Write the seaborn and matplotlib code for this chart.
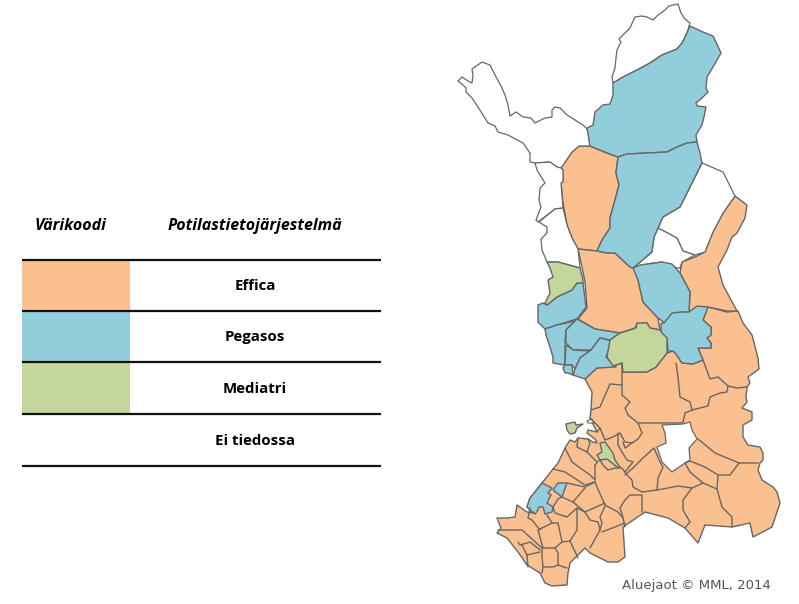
import matplotlib
matplotlib.use("Agg")
import matplotlib.pyplot as plt
import seaborn as sns

# legend table
LEGEND_LABELS = ["Effica", "Pegasos", "Mediatri", "Ei tiedossa"]
LEGEND_ROWS = [260, 311, 362, 414, 466]
HEADERS = ["Värikoodi", "Potilastietojärjestelmä"]
CREDIT = "Aluejaot © MML, 2014"

# region outlines in pixels
NORTH_TIP = [(613,83),(612,77),(615,68),(616,58),(617,50),(621,42),(619,39),(625,33),(630,28),(635,17),(642,16),(647,17),(653,20),(658,15),(665,10),(669,6),(678,4),(681,13),(685,19),(690,23),(687,33),(682,43),(677,49),(662,55),(650,63),(637,70),(623,77)]
WEST_ARM = [(588,130),(583,125),(575,120),(567,115),(560,108),(555,107),(552,110),(552,117),(545,118),(535,123),(531,118),(523,117),(516,112),(510,116),(508,105),(505,95),(502,88),(495,75),(490,65),(482,62),(472,69),(473,75),(472,83),(468,81),(462,77),(458,81),(463,85),(466,88),(466,92),(472,98),(478,107),(483,115),(488,123),(495,126),(498,132),(508,135),(523,143),(530,153),(530,162),(535,163),(550,162),(557,167),(561,168),(572,152),(579,146),(590,146)]
WEST_COAST_1 = [(535,163),(550,162),(557,167),(561,168),(563,170),(563,182),(561,183),(563,208),(555,209),(538,222),(536,220),(541,207),(539,200),(540,188),(545,183),(537,170)]
WEST_COAST_2 = [(563,208),(567,225),(572,238),(578,249),(580,268),(558,262),(547,262),(542,250),(541,239),(547,233),(547,227),(539,222),(555,209)]
EAST_WHITE_1 = [(702,163),(723,172),(735,196),(723,213),(713,232),(705,252),(695,255),(683,251),(677,238),(658,228),(663,217),(680,207),(687,193),(695,177)]
EAST_WHITE_2 = [(658,228),(677,238),(683,251),(695,255),(682,262),(680,268),(677,268),(662,262),(647,264),(633,268),(652,252),(654,237)]
LAKE_HOLE = [(662,425),(665,433),(666,443),(657,447),(662,462),(672,472),(685,463),(690,460),(689,448),(697,439),(692,430),(690,422),(683,424)]
ISLAND = [(587,421),(592,419),(594,423),(588,423)]

BLUE_NORTH = [(690,26),(703,32),(713,36),(716,42),(721,53),(713,67),(707,77),(706,88),(708,92),(702,98),(696,103),(697,106),(706,107),(704,117),(702,125),(696,135),(697,142),(687,143),(677,147),(667,152),(647,153),(627,154),(618,157),(607,153),(590,146),(587,128),(593,125),(595,112),(603,105),(610,104),(613,95),(613,83),(623,77),(637,70),(650,63),(662,55),(677,49),(682,43),(687,33)]
BLUE_CENTRAL = [(618,157),(627,154),(647,153),(667,152),(677,147),(687,143),(697,142),(700,153),(702,163),(695,177),(687,193),(680,207),(663,217),(658,228),(654,237),(652,252),(633,268),(630,267),(615,253),(607,253),(597,251),(602,240),(610,228),(610,218),(615,200),(619,185),(616,173)]
BLUE_OULU = [(633,268),(640,265),(662,262),(672,264),(680,273),(690,292),(689,312),(673,313),(665,323),(658,318),(643,302),(638,280)]
BLUE_WEST_1 = [(583,283),(586,307),(577,319),(557,325),(545,329),(538,322),(538,305),(543,303),(547,305),(557,297),(572,290),(577,283)]
BLUE_WEST_2 = [(545,329),(557,325),(575,321),(566,330),(565,342),(565,363),(564,365),(553,363),(553,357),(550,347),(546,335)]
BLUE_WEST_3 = [(577,319),(595,329),(620,333),(610,340),(600,338),(591,350),(573,350),(566,343),(566,330),(575,321)]
BLUE_WEST_4 = [(566,345),(573,350),(590,351),(580,358),(575,369),(572,365),(565,365)]
BLUE_COAST = [(565,365),(572,365),(573,375),(568,373),(565,373),(563,368)]
BLUE_WEST_5 = [(600,338),(612,341),(606,357),(616,367),(597,368),(585,379),(573,375),(575,369),(580,358),(591,350)]
BLUE_KAINUU = [(661,323),(664,323),(672,313),(682,312),(689,312),(697,306),(708,307),(703,320),(711,327),(711,335),(707,338),(711,343),(711,348),(698,348),(703,360),(693,364),(682,363),(676,354),(673,351),(668,351),(667,338),(660,335),(661,330)]
BLUE_SW_BIG = [(542,483),(552,488),(548,493),(551,495),(547,503),(553,507),(552,512),(545,514),(543,507),(539,507),(538,510),(535,514),(527,507),(530,498),(535,492)]
BLUE_SW_SMALL = [(558,483),(567,483),(562,497),(553,490),(555,487)]

GREEN_TOP = [(547,262),(558,262),(580,268),(583,280),(583,283),(577,283),(572,290),(557,297),(547,305),(545,303),(550,293),(548,280),(553,277),(550,268)]
GREEN_CENTRAL = [(610,340),(620,333),(630,330),(636,328),(637,323),(647,323),(650,328),(660,330),(662,333),(667,338),(667,353),(656,367),(647,372),(623,372),(622,363),(613,366),(607,357)]
GREEN_ISLAND = [(566,424),(570,423),(575,422),(576,425),(583,424),(577,428),(575,433),(570,434),(567,430)]
GREEN_LAKE = [(605,442),(613,453),(615,460),(620,467),(617,467),(612,463),(607,459),(600,460),(597,455),(602,452),(600,443)]

ORANGE_LAPLAND = [(590,146),(579,146),(572,152),(561,168),(563,170),(563,182),(561,183),(563,203),(567,225),(572,238),(578,249),(597,251),(602,240),(610,228),(610,218),(615,200),(619,185),(616,173),(618,157),(607,153)]
ORANGE_EAST = [(735,196),(747,205),(745,218),(737,233),(732,237),(727,250),(718,267),(723,285),(737,311),(727,311),(708,307),(689,312),(690,292),(680,273),(682,262),(695,257),(705,252),(713,232),(723,213)]
ORANGE_OULU = [(578,249),(597,251),(607,253),(615,253),(630,267),(635,269),(638,280),(643,302),(658,318),(660,330),(650,328),(647,323),(637,324),(635,328),(620,333),(595,329),(578,319),(587,308),(585,282),(582,267)]
ORANGE_SOUTH = [(585,379),(597,368),(613,366),(622,363),(623,372),(647,372),(656,367),(667,353),(673,351),(676,354),(682,363),(693,364),(703,360),(698,348),(711,348),(711,343),(707,338),(711,335),(711,327),(703,320),(708,307),(727,312),(738,311),(743,323),(752,335),(758,358),(759,369),(748,377),(750,383),(747,387),(746,397),(747,402),(742,408),(747,410),(752,412),(752,420),(743,425),(743,437),(748,445),(760,447),(763,453),(763,460),(760,463),(758,470),(762,480),(773,487),(777,492),(780,503),(772,527),(753,537),(750,523),(732,527),(705,525),(698,543),(685,528),(668,518),(645,512),(623,527),(625,557),(618,562),(608,562),(590,553),(585,548),(570,563),(568,573),(567,585),(552,586),(545,583),(540,573),(527,565),(518,552),(507,538),(497,533),(501,528),(497,518),(507,518),(515,517),(517,505),(527,512),(533,513),(527,507),(530,498),(535,492),(542,483),(553,469),(558,463),(565,448),(570,440),(575,442),(578,438),(588,439),(593,442),(597,443),(595,439),(587,433),(588,430),(597,432),(590,418),(591,410),(592,392)]

# borders between the Effica municipalities
BORDERS = [
    [(703,360),(710,379),(718,377),(728,386),(737,388),(747,387)],
    [(728,386),(727,392),(720,393),(710,397),(708,406),(692,410),(690,402),(680,397),(678,377),(676,363)],
    [(692,410),(685,413),(683,423),(663,423),(638,423),(628,415),(625,408),(630,402),(622,395),(622,363)],
    [(622,385),(610,384),(600,407),(591,410)],
    [(638,423),(642,433),(638,439),(632,443),(625,442),(620,433),(613,437),(605,440),(600,428),(590,418)],
    [(578,438),(577,447),(587,452),(590,443),(588,439)],
    [(565,448),(572,462),(590,475),(595,480),(595,465),(597,463)],
    [(587,452),(597,462),(600,460),(603,465),(608,470),(615,468),(622,468),(627,475),(632,480),(633,487),(642,492)],
    [(553,469),(565,472),(585,485),(595,482)],
    [(595,482),(597,487),(605,505),(618,512),(623,518),(625,527)],
    [(605,506),(600,517),(602,523),(600,530),(590,548)],
    [(625,523),(602,532)],
    [(623,517),(620,508),(625,500),(630,495),(642,495),(642,512)],
    [(625,475),(633,468),(643,458),(654,448),(660,462),(663,467),(658,478),(657,490)],
    [(642,492),(657,490),(668,488),(678,486),(692,488),(683,500),(683,510),(690,522),(685,528)],
    [(692,488),(703,483),(717,489),(722,507),(732,517),(732,527)],
    [(703,483),(690,472),(685,463),(690,461),(705,467),(718,475),(730,475),(739,463)],
    [(718,475),(717,489)],
    [(698,439),(715,453),(739,463),(758,463)],
    [(623,442),(625,448),(632,443)],
    [(618,433),(618,445),(622,452),(627,460),(633,462),(625,472)],
    [(567,483),(585,487),(595,482)],
    [(562,497),(573,502),(585,512),(590,520),(598,522),(600,530)],
    [(553,507),(558,499),(562,497)],
    [(573,502),(585,488)],
    [(585,512),(605,503)],
    [(553,507),(555,513),(567,517),(577,508),(585,512)],
    [(547,515),(552,523),(558,523),(562,542),(570,541),(577,530),(577,508)],
    [(570,541),(578,558)],
    [(555,548),(558,553),(558,565),(567,568)],
    [(542,528),(538,530),(543,548),(555,548),(562,542)],
    [(542,528),(552,523)],
    [(530,508),(528,518),(532,520),(540,530)],
    [(498,530),(522,530),(542,548),(542,557),(543,567),(553,567),(558,565)],
    [(518,542),(520,545),(530,542),(540,550)],
    [(527,555),(540,552)],
    [(522,545),(527,555),(528,567)],
    [(543,567),(542,573)],
    [(597,432),(600,428)],
]

EDGE = "#666666"
palette = sns.color_palette(["#FAC090", "#92CDDC", "#C3D69B"])
ORANGE, BLUE, GREEN = palette

WHITE_REGIONS = [NORTH_TIP, WEST_ARM, WEST_COAST_1, WEST_COAST_2, EAST_WHITE_1, EAST_WHITE_2]
BLUE_REGIONS = [BLUE_NORTH, BLUE_CENTRAL, BLUE_OULU, BLUE_WEST_1, BLUE_WEST_2, BLUE_WEST_3, BLUE_WEST_4, BLUE_COAST, BLUE_WEST_5, BLUE_KAINUU, BLUE_SW_BIG, BLUE_SW_SMALL]
GREEN_REGIONS = [GREEN_TOP, GREEN_CENTRAL, GREEN_ISLAND, GREEN_LAKE]
ORANGE_REGIONS = [ORANGE_LAPLAND, ORANGE_EAST, ORANGE_OULU]


def draw_region(ax, outline, color, lw=1.0):
    xs, ys = zip(*outline)
    ax.fill(xs, ys, facecolor=color, edgecolor=EDGE, linewidth=lw, joinstyle="round")


def main():
    sns.set_theme(style="white")
    plt.rcParams["font.family"] = ["Open Sans", "DejaVu Sans"]

    fig = plt.figure(figsize=(7.99, 6.04), dpi=100)
    ax = fig.add_axes([0, 0, 1, 1])
    ax.set_xlim(0, 799)
    ax.set_ylim(604, 0)
    ax.axis("off")

    # map
    draw_region(ax, ORANGE_SOUTH, ORANGE)
    for outline in ORANGE_REGIONS:
        draw_region(ax, outline, ORANGE)
    for line in BORDERS:
        xs, ys = zip(*line)
        ax.plot(xs, ys, color=EDGE, lw=1.0, solid_joinstyle="round")
    for outline in WHITE_REGIONS:
        draw_region(ax, outline, "white", lw=0.9)
    draw_region(ax, LAKE_HOLE, "white", lw=0.9)
    draw_region(ax, ISLAND, "white", lw=0.8)
    for outline in BLUE_REGIONS:
        draw_region(ax, outline, BLUE)
    for outline in GREEN_REGIONS:
        draw_region(ax, outline, GREEN)

    # legend table
    for i, color in enumerate(palette):
        ax.fill_between([22, 130], LEGEND_ROWS[i], LEGEND_ROWS[i + 1], color=color, lw=0)
    for y in LEGEND_ROWS:
        ax.plot([22, 381], [y, y], color="#111111", lw=1.6, solid_capstyle="butt")
    for i, label in enumerate(LEGEND_LABELS):
        y = (LEGEND_ROWS[i] + LEGEND_ROWS[i + 1]) / 2 + 1
        ax.text(255, y, label, ha="center", va="center", fontsize=10.8, fontweight="bold", color="black")
    ax.text(71, 226, HEADERS[0], ha="center", va="center", fontsize=11.5, fontweight="bold", style="italic", color="black")
    ax.text(255, 226, HEADERS[1], ha="center", va="center", fontsize=11.5, fontweight="bold", style="italic", color="black")

    ax.text(696, 585, CREDIT, ha="center", va="center", fontsize=9.5, color="#555555", family="DejaVu Sans")

    fig.savefig("out.png", dpi=100)
    plt.close(fig)


if __name__ == "__main__":
    main()
